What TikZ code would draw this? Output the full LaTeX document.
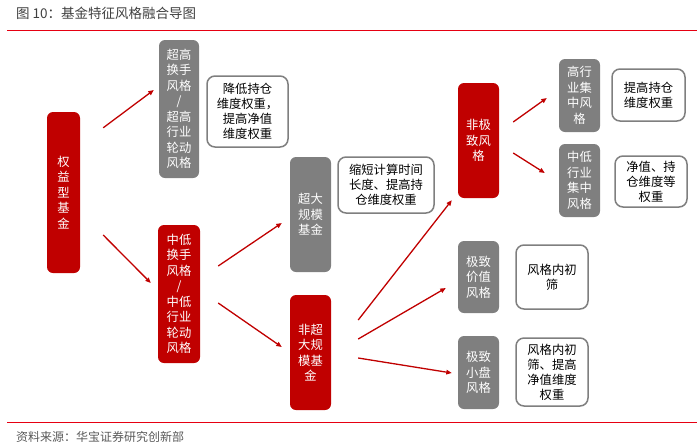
\documentclass[tikz,border=0pt]{standalone}
\usepackage{fontspec}
\setmainfont{Noto Sans CJK SC}
\usetikzlibrary{arrows.meta}
\definecolor{boxred}{HTML}{C00000}
\definecolor{boxgray}{HTML}{7F7F7F}
\definecolor{linered}{HTML}{E60012}
\definecolor{titlegray}{HTML}{404040}
\definecolor{footgray}{HTML}{595959}
\tikzset{
  main/.style={rectangle, rounded corners=6pt, inner sep=0pt, align=center, text=white,
    font=\fontsize{12.3}{15.5}\selectfont},
  redbox/.style={main, fill=boxred},
  graybox/.style={main, fill=boxgray},
  notebox/.style={rectangle, rounded corners=8pt, draw=boxgray, line width=1.5pt, fill=white,
    inner sep=0pt, align=center, text=black, font=\fontsize{12.3}{15}\selectfont},
  arr/.style={draw=boxred, line width=1.3pt, -{Triangle[length=5.5pt,width=4.5pt]}},
  rule/.style={draw=linered, line width=1.6pt}
}
\begin{document}
\begin{tikzpicture}[x=1pt,y=-1pt]
\useasboundingbox (0,0) rectangle (700,445);
% title and rules
\node[anchor=west, text=titlegray, font=\fontsize{13.5}{15}\selectfont, inner sep=0pt] (title) at (16,13) {图 10：基金特征风格融合导图};
\coordinate (tl) at (7,30.5);
\coordinate (tr) at (697,30.5);
\draw[rule] (tl) -- (tr);
\coordinate (bl) at (7,422.5);
\coordinate (br) at (697,422.5);
\draw[rule] (bl) -- (br);
\node[anchor=west, text=footgray, font=\fontsize{12}{14}\selectfont, inner sep=0pt] (foot) at (16,437) {资料来源：华宝证券研究创新部};

% main boxes
\node[redbox, minimum width=33pt, minimum height=161pt] (quanyi) at (63.5,192.5) {权\\益\\型\\基\\金};
\node[graybox, minimum width=40pt, minimum height=138pt] (chaogao) at (179,109) {超高\\换手\\风格\\/\\超高\\行业\\轮动\\风格};
\node[redbox, minimum width=42pt, minimum height=138pt] (zhongdi) at (179,294) {中低\\换手\\风格\\/\\中低\\行业\\轮动\\风格};
\node[graybox, minimum width=41pt, minimum height=115pt] (chaoda) at (310.5,214.5) {超大\\规模\\基金};
\node[redbox, minimum width=41pt, minimum height=115pt] (feichao) at (310.5,352.5) {非超\\大规\\模基\\金};
\node[redbox, minimum width=41pt, minimum height=115pt] (feiji) at (478.5,140.5) {非极\\致风\\格};
\node[graybox, minimum width=41pt, minimum height=73pt] (gaohang) at (579.5,95.5) {高行\\业集\\中风\\格};
\node[graybox, minimum width=41pt, minimum height=73pt] (zdhang) at (579.5,180.5) {中低\\行业\\集中\\风格};
\node[graybox, minimum width=41pt, minimum height=72pt] (jzjz) at (478.5,277) {极致\\价值\\风格};
\node[graybox, minimum width=41pt, minimum height=73pt] (jzxp) at (478.5,372.5) {极致\\小盘\\风格};

% note boxes
\node[notebox, minimum width=81pt, minimum height=71pt] (t1) at (247.5,111.5) {降低持仓\\维度权重，\\提高净值\\维度权重};
\node[notebox, minimum width=96pt, minimum height=56pt] (t2) at (386,185) {缩短计算时间\\长度、提高持\\仓维度权重};
\node[notebox, minimum width=73pt, minimum height=52pt] (t3) at (648.5,95) {提高持仓\\维度权重};
\node[notebox, minimum width=72pt, minimum height=51pt] (t4) at (651,181.5) {净值、持\\仓维度等\\权重};
\node[notebox, minimum width=72pt, minimum height=64pt] (t5) at (552,277) {风格内初\\筛};
\node[notebox, minimum width=72pt, minimum height=68pt] (t6) at (552,372) {风格内初\\筛、提高\\净值维度\\权重};

% arrows
\draw[arr] ([shift={(23,16)}]quanyi.north east) -- ([shift={(-5,-19)}]chaogao.west);
\draw[arr] ([shift={(23,42.5)}]quanyi.east) -- ([shift={(-7,-11)}]zhongdi.west);
\draw[arr] ([shift={(18,-28)}]zhongdi.east) -- ([shift={(-8,8.5)}]chaoda.west);
\draw[arr] ([shift={(18,9)}]zhongdi.east) -- ([shift={(-8,-5.5)}]feichao.west);
\draw[arr] ([shift={(27,-32.5)}]feichao.east) -- ([shift={(-6,2)}]feiji.south west);
\draw[arr] ([shift={(27,-13.5)}]feichao.east) -- ([shift={(-12,11)}]jzjz.west);
\draw[arr] ([shift={(27,5.5)}]feichao.east) -- ([shift={(-6,0.5)}]jzxp.west);
\draw[arr] ([shift={(14,-18.5)}]feiji.east) -- ([shift={(-12,2.5)}]gaohang.west);
\draw[arr] ([shift={(14,12.5)}]feiji.east) -- ([shift={(-14,-7.5)}]zdhang.west);
\end{tikzpicture}
\end{document}
